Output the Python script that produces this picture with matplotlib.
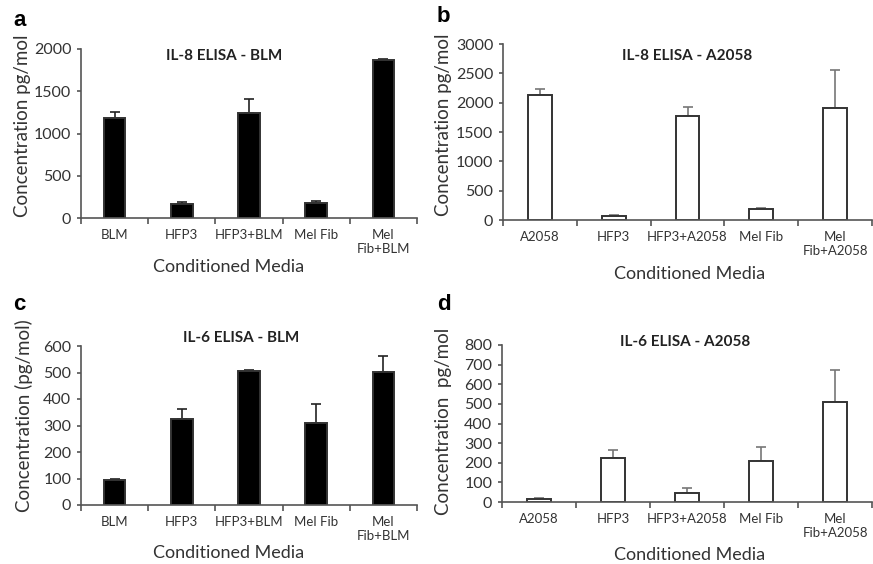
import numpy as np
import matplotlib.pyplot as plt

# data
cats_blm = ["BLM", "HFP3", "HFP3+BLM", "Mel Fib", "Mel\nFib+BLM"]
cats_a2058 = ["A2058", "HFP3", "HFP3+A2058", "Mel Fib", "Mel\nFib+A2058"]

il8_blm = [1180, 170, 1240, 178, 1870]
il8_blm_err = [80, 15, 170, 25, 8]

il8_a2058 = [2135, 75, 1780, 180, 1910]
il8_a2058_err = [100, 10, 140, 30, 650]

il6_blm = [96, 326, 507, 310, 502]
il6_blm_err = [3, 37, 3, 71, 59]

il6_a2058 = [17, 226, 48, 211, 509]
il6_a2058_err = [2, 37, 23, 71, 163]

W, H = 873, 564
LABEL_FONT = "Lato"


def rect(left, right, top, bottom):
    return [left / W, 1 - bottom / H, (right - left) / W, (bottom - top) / H]


def ftext(fig, x, y, s, **kw):
    fig.text(x / W, 1 - y / H, s, ha="center", va="center", **kw)


def panel(fig, box, cats, vals, errs, ymax, ystep, filled):
    ax = fig.add_axes(box)
    x = np.arange(len(cats))
    face = "black" if filled else "white"
    ax.bar(x, vals, width=0.32, color=face, edgecolor="#333333", linewidth=1.4, zorder=2)
    ecol = "#222222" if filled else "#777777"
    ax.errorbar(x, vals, yerr=[np.zeros(len(errs)), errs], fmt="none",
                ecolor=ecol, elinewidth=1.2, capsize=3.5, capthick=1.2, zorder=1)
    ax.set_xlim(-0.5, len(cats) - 0.5)
    ax.set_ylim(0, ymax)
    ax.set_yticks(np.arange(0, ymax + 1, ystep))
    ax.set_xticks(np.arange(len(cats) + 1) - 0.5)
    ax.set_xticklabels([])
    ax.set_xticks(x, minor=True)
    ax.set_xticklabels(cats, minor=True, fontsize=9.5, family=LABEL_FONT, color="#333333")
    ax.tick_params(axis="x", which="minor", length=0, pad=8)
    ax.tick_params(axis="x", which="major", length=4, width=1.2, color="#555555", direction="out")
    ax.tick_params(axis="y", length=3, width=1.2, color="#555555", labelsize=11.5,
                   labelcolor="#333333", pad=4)
    for lab in ax.get_yticklabels():
        lab.set_family(LABEL_FONT)
    for s in ["top", "right"]:
        ax.spines[s].set_visible(False)
    for s in ["left", "bottom"]:
        ax.spines[s].set_color("#555555")
        ax.spines[s].set_linewidth(1.2)
    return ax


def main():
    fig = plt.figure(figsize=(W / 100, H / 100), dpi=100)

    panel(fig, rect(81, 417, 49, 218), cats_blm, il8_blm, il8_blm_err, 2000, 500, True)
    panel(fig, rect(503, 872, 44, 220), cats_a2058, il8_a2058, il8_a2058_err, 3000, 500, False)
    panel(fig, rect(81, 417, 346, 505), cats_blm, il6_blm, il6_blm_err, 600, 100, True)
    panel(fig, rect(502, 872, 345, 502), cats_a2058, il6_a2058, il6_a2058_err, 800, 100, False)

    tkw = dict(fontsize=11, fontweight="bold", family=LABEL_FONT, color="#222222")
    ftext(fig, 224, 56, "IL-8 ELISA - BLM", **tkw)
    ftext(fig, 687, 56, "IL-8 ELISA - A2058", **tkw)
    ftext(fig, 241, 338, "IL-6 ELISA - BLM", **tkw)
    ftext(fig, 685, 342, "IL-6 ELISA - A2058", **tkw)

    ykw = dict(fontsize=13.5, family=LABEL_FONT, color="#333333", rotation=90)
    ftext(fig, 23, 126, "Concentration pg/mol", **ykw)
    ftext(fig, 444, 125, "Concentration pg/mol", **ykw)
    ftext(fig, 24, 416, "Concentration (pg/mol)", **ykw)
    ftext(fig, 444, 421, "Concentration  pg/mol", **ykw)

    xkw = dict(fontsize=13, family=LABEL_FONT, color="#333333")
    ftext(fig, 229, 267, "Conditioned Media", **xkw)
    ftext(fig, 690, 274, "Conditioned Media", **xkw)
    ftext(fig, 229, 553, "Conditioned Media", **xkw)
    ftext(fig, 690, 555, "Conditioned Media", **xkw)

    lkw = dict(fontsize=16, fontweight="bold", family="Liberation Sans", color="black")
    ftext(fig, 20, 20, "a", **lkw)
    ftext(fig, 443, 17, "b", **lkw)
    ftext(fig, 19, 305, "c", **lkw)
    ftext(fig, 444, 305, "d", **lkw)

    fig.savefig("out.png", dpi=100)
    plt.close(fig)


if __name__ == "__main__":
    main()
